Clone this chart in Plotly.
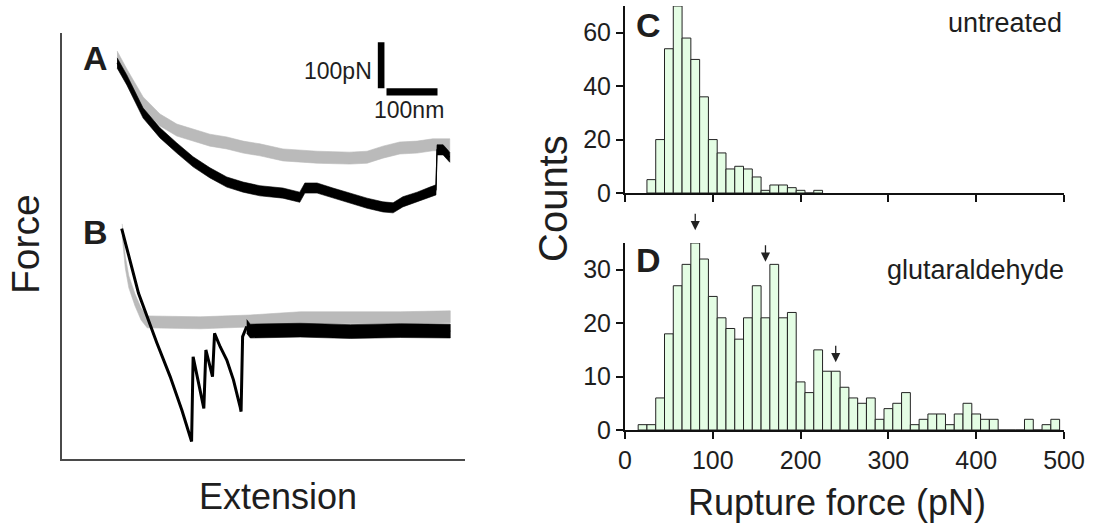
import numpy as np
import plotly.graph_objects as go

W, H = 1098, 529
FONT = "Liberation Sans, Arial, sans-serif"
TXT = "#1e1e1e"

# ---------------- data ----------------
# Force-extension traces (extension in nm, force in pN)
a_gray_ext = [108, 127, 159, 192, 225, 257, 290, 323, 355, 388, 433, 500, 564, 598, 629, 662, 696, 727, 760]
a_gray_force = [873, 834, 773, 736, 714, 703, 692, 686, 677, 671, 660, 655, 653, 655, 666, 675, 677, 682, 682]
a_gray_noise = 13

a_black_ext = [108, 127, 159, 192, 225, 257, 290, 323, 355, 388, 433, 466, 476, 500, 531, 564, 598, 629,
               649, 668, 696, 721, 733, 735, 747, 760]
a_black_force = [860, 823, 751, 708, 675, 645, 621, 601, 590, 582, 577, 568, 588, 588, 577, 566, 555, 547,
                 545, 558, 568, 579, 584, 671, 671, 655]
a_black_noise = 11

b_gray_ext = [118, 124, 131, 143, 155, 167, 271, 369, 467, 565, 663, 761]
b_gray_force = [497, 427, 384, 345, 314, 297, 295, 299, 306, 306, 306, 308]
b_gray_noise = 13

b_black_saw_ext = [117, 150, 186, 212, 235, 254, 257, 278, 282, 295, 299, 310, 323, 336, 349, 351, 354, 362]
b_black_saw_force = [500, 359, 251, 178, 105, 37, 221, 109, 236, 178, 272, 243, 214, 171, 113, 102, 265, 287]
b_black_flat_ext = [362, 369, 467, 565, 663, 761]
b_black_flat_force = [287, 277, 279, 276, 278, 277]
b_black_noise = 15

scale_force_pn = 100
scale_ext_nm = 100

# Histograms: rupture force bin centres (pN) and counts
c_centers = [30, 40, 50, 60, 70, 80, 90, 100, 110, 120, 130, 140, 150, 160, 170, 180, 190, 200, 210, 220]
c_counts = [5, 20, 54, 70, 58, 50, 36, 20, 15, 9, 10, 9, 6, 1, 3, 3, 2, 1, 0, 1]

d_centers = [20, 30, 40, 50, 60, 70, 80, 90, 100, 110, 120, 130, 140, 150, 160, 170, 180, 190, 200, 210,
             220, 230, 240, 250, 260, 270, 280, 290, 300, 310, 320, 330, 340, 350, 360, 370, 380, 390, 400, 410,
             420, 430, 440, 450, 460, 470, 480, 490]
d_counts = [1, 1, 6, 18, 27, 31, 35, 32, 25, 21, 19, 17, 21, 27, 21, 31, 21, 22, 9, 7,
            15, 11, 11, 8, 6, 5, 6, 2, 4, 5, 7, 1, 2, 3, 3, 1, 3, 5, 3, 2,
            2, 0, 0, 0, 2, 0, 1, 2]
bin_width = 10

peak_forces = [80, 160, 240]
peak_marks = [37.4, 31.5, 12.7]

x_ticks = [0, 100, 200, 300, 400, 500]
c_yticks = [0, 20, 40, 60]
d_yticks = [0, 10, 20, 30]
c_ymax = 70
d_ymax = 35


# ---------------- helpers (layout) ----------------
def px(X):
    return X / W


def py(Y):
    return 1 - Y / H


def band(xs, ys, h):
    xs = np.asarray(xs, float)
    ys = np.asarray(ys, float)
    return np.concatenate([xs, xs[::-1]]), np.concatenate([ys + h, (ys - h)[::-1]])


GRAY = "#bababa"
BLACK = "#000000"

fig = go.Figure()


def add_band(xs, ys, h, color, center_w=0.0):
    bx, by = band(xs, ys, h)
    fig.add_trace(go.Scatter(x=bx, y=by, fill="toself", fillcolor=color, mode="lines",
                             line=dict(color=color, width=0.6), hoverinfo="skip",
                             xaxis="x", yaxis="y", showlegend=False))
    if center_w > 0:
        fig.add_trace(go.Scatter(x=xs, y=ys, mode="lines", line=dict(color=color, width=center_w),
                                 hoverinfo="skip", xaxis="x", yaxis="y", showlegend=False))


add_band(a_gray_ext, a_gray_force, a_gray_noise, GRAY)
add_band(b_gray_ext, b_gray_force, b_gray_noise, GRAY)
add_band(a_black_ext, a_black_force, a_black_noise, BLACK, 1.2)
fig.add_trace(go.Scatter(x=b_black_saw_ext, y=b_black_saw_force, mode="lines",
                         line=dict(color=BLACK, width=3), hoverinfo="skip",
                         xaxis="x", yaxis="y", showlegend=False))
add_band(b_black_flat_ext, b_black_flat_force, b_black_noise, BLACK, 1.2)

BAR_FILL = "rgb(228,253,228)"
BAR_LINE = "rgb(35,35,35)"
fig.add_trace(go.Bar(x=c_centers, y=c_counts, width=bin_width, marker=dict(color=BAR_FILL,
                     line=dict(color=BAR_LINE, width=1)), xaxis="x2", yaxis="y2", showlegend=False))
fig.add_trace(go.Bar(x=d_centers, y=d_counts, width=bin_width, marker=dict(color=BAR_FILL,
                     line=dict(color=BAR_LINE, width=1)), xaxis="x3", yaxis="y3", showlegend=False))

# left panel: extension 1.96 nm/px, force 2.174 pN/px
L_X0, L_X1, L_Y0, L_Y1 = 62, 465, 458.5, 33
ext_range = [0, (L_X1 - L_X0) * 1.96]
force_range = [0, (L_Y0 - L_Y1) * 2.174]

AX_L = dict(showgrid=False, zeroline=False, showticklabels=False, ticks="", showline=True,
            linecolor="#4a4a4a", linewidth=2, automargin=False)
HX0, HX1 = 625, 1064
AX_H = dict(showgrid=False, zeroline=False, showline=True, linecolor="#111", linewidth=2,
            ticks="outside", ticklen=7, tickwidth=1.5, tickcolor="#111", automargin=False,
            tickfont=dict(family=FONT, size=25, color=TXT))

fig.update_layout(
    width=W, height=H, autosize=False, margin=dict(l=0, r=0, t=0, b=0, pad=0, autoexpand=False),
    paper_bgcolor="white", plot_bgcolor="white", barmode="overlay", showlegend=False,
    xaxis=dict(domain=[px(L_X0), px(L_X1)], range=ext_range, anchor="y", **AX_L),
    yaxis=dict(domain=[py(L_Y0), py(L_Y1)], range=force_range, anchor="x", **AX_L),
    xaxis2=dict(domain=[px(HX0), px(HX1)], range=[0, 500], anchor="y2", tickvals=x_ticks,
                showticklabels=False, **AX_H),
    yaxis2=dict(domain=[py(193), py(6)], range=[0, c_ymax], anchor="x2", tickvals=c_yticks, **AX_H),
    xaxis3=dict(domain=[px(HX0), px(HX1)], range=[0, 500], anchor="y3", tickvals=x_ticks, **AX_H),
    yaxis3=dict(domain=[py(430), py(243)], range=[0, d_ymax], anchor="x3", tickvals=d_yticks, **AX_H),
)

# scale bars (in data units of the left panel)
sb_x = 619
sb_y = 805
fig.add_shape(type="rect", xref="x", yref="y", x0=sb_x, x1=sb_x + 13, y0=sb_y, y1=sb_y + scale_force_pn,
              fillcolor="black", line=dict(width=0))
fig.add_shape(type="rect", xref="x", yref="y", x0=sb_x + 17, x1=sb_x + 17 + scale_ext_nm, y0=sb_y - 16,
              y1=sb_y, fillcolor="black", line=dict(width=0))

annos = []


def text(s, X, Y, size, bold=False, xanchor="center", angle=0):
    annos.append(dict(text=f"<b>{s}</b>" if bold else s, x=px(X), y=py(Y), xref="paper", yref="paper",
                      xanchor=xanchor, yanchor="middle", showarrow=False, textangle=angle,
                      font=dict(family=FONT, size=size, color=TXT)))


text(f"{scale_force_pn}pN", 374, 71, 23, xanchor="right")
text(f"{scale_ext_nm}nm", 409, 110, 23)
text("A", 95, 58, 34, bold=True)
text("B", 95, 232, 34, bold=True)
text("C", 648, 25, 34, bold=True)
text("D", 648, 260, 34, bold=True)
text("untreated", 1064, 23, 27, xanchor="right")
text("glutaraldehyde", 1066, 270, 27, xanchor="right")
text("Force", 26, 244, 39, angle=-90)
text("Extension", 278, 496, 36)
text("Counts", 553, 199, 40, angle=-90)
text("Rupture force (pN)", 837, 502, 36)

for xf, yc in zip(peak_forces, peak_marks):
    annos.append(dict(x=xf, y=yc / d_ymax, xref="x3", yref="y3 domain", text="", showarrow=True,
                      ax=0, ay=-18, arrowhead=2, arrowsize=1.4, arrowwidth=1.3, arrowcolor="#222"))

fig.update_layout(annotations=annos)

fig.write_html("out.html", config={"displayModeBar": False, "responsive": False},
               post_script="document.body.style.margin='0';document.body.style.overflow='hidden';")
